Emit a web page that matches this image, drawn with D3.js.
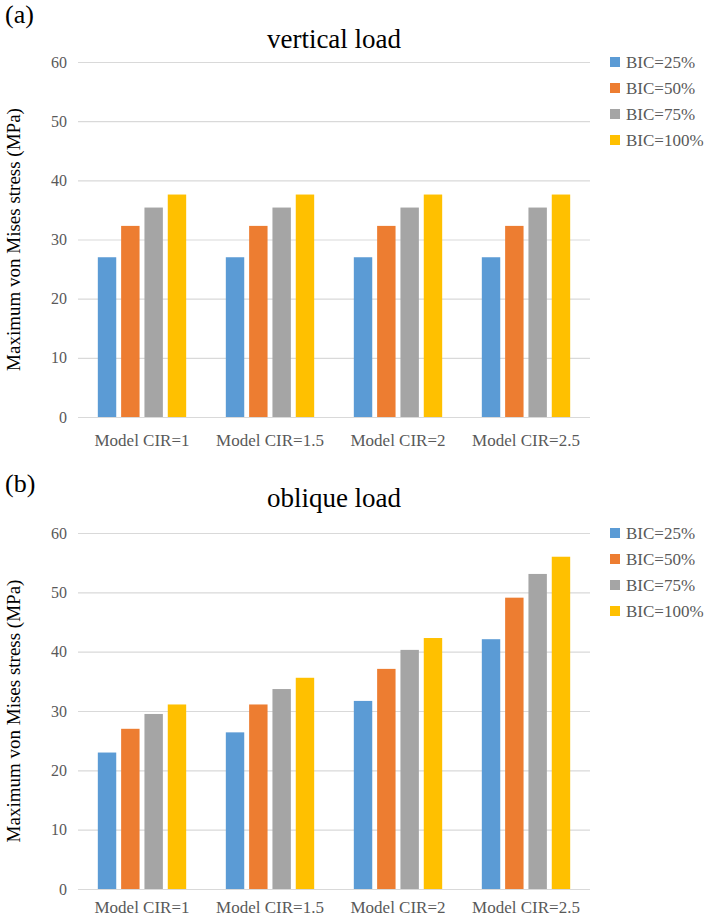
<!DOCTYPE html>
<html>
<head>
<meta charset="utf-8">
<script src="https://cdn.jsdelivr.net/npm/d3@7"></script>
<style>
  body { margin: 0; background: #fff; }
  text { font-family: "Liberation Serif", "Times New Roman", serif; }
</style>
</head>
<body>
<svg id="chart" width="708" height="918"></svg>
<script>
// Categories, series and values
const categories = ['Model CIR=1', 'Model CIR=1.5', 'Model CIR=2', 'Model CIR=2.5'];
const series = ['BIC=25%', 'BIC=50%', 'BIC=75%', 'BIC=100%'];
const colors = ['#5B9BD5', '#ED7D31', '#A5A5A5', '#FFC000'];
const yTicks = [0, 10, 20, 30, 40, 50, 60];

// (a) vertical load - one array per series, one value per category
const vertical25 = [27.0, 27.0, 27.0, 27.0];
const vertical50 = [32.3, 32.3, 32.3, 32.3];
const vertical75 = [35.4, 35.4, 35.4, 35.4];
const vertical100 = [37.6, 37.6, 37.6, 37.6];

// (b) oblique load
const oblique25 = [23.0, 26.4, 31.7, 42.1];
const oblique50 = [27.0, 31.1, 37.1, 49.1];
const oblique75 = [29.5, 33.7, 40.3, 53.1];
const oblique100 = [31.1, 35.6, 42.3, 56.0];

const panels = [
  { tag: '(a)', title: 'vertical load', values: [vertical25, vertical50, vertical75, vertical100],
    top: 62, bottom: 417, tagY: 23, titleY: 48, legendY: 62, labelPad: 17 },
  { tag: '(b)', title: 'oblique load', values: [oblique25, oblique50, oblique75, oblique100],
    top: 533, bottom: 889, tagY: 492, titleY: 507, legendY: 533, labelPad: 12 }
];

const
  plotLeft = 78,      // left edge of the plot area
  plotRight = 590,    // right edge of the plot area
  gridColor = '#d9d9d9',
  tickColor = '#595959';

const svg = d3.select('#chart');

panels.forEach(p => {
  const g = svg.append('g');

  // --- scales
  const x0 = d3.scaleBand(categories, [plotLeft, plotRight]);
  const x1 = d3.scaleBand(series, [0, x0.bandwidth()])
    .paddingInner(0.21)
    .paddingOuter(0.85);
  const y = d3.scaleLinear([0, 60], [p.bottom, p.top]);

  // --- gridlines + y tick labels
  const yAxis = d3.axisLeft(y)
    .tickValues(yTicks)
    .tickSize(-(plotRight - plotLeft))
    .tickPadding(11);

  g.append('g')
    .attr('transform', 'translate(' + plotLeft + ',0)')
    .call(yAxis)
    .call(a => a.select('.domain').remove())
    .call(a => a.selectAll('.tick line').attr('stroke', gridColor).attr('stroke-width', 1.2))
    .call(a => a.selectAll('.tick text')
      .attr('fill', tickColor)
      .style('font-size', '16px')
      .style('font-family', '"Liberation Serif", serif'));

  // --- bars
  const rows = categories.map((c, i) => ({ cat: c, vals: series.map((s, j) => ({ s, j, v: p.values[j][i] })) }));

  g.selectAll('g.group')
    .data(rows)
    .enter()
    .append('g')
    .attr('class', 'group')
    .attr('transform', d => 'translate(' + x0(d.cat) + ',0)')
    .selectAll('rect')
    .data(d => d.vals)
    .enter()
    .append('rect')
    .attr('x', d => x1(d.s))
    .attr('y', d => y(d.v))
    .attr('width', x1.bandwidth())
    .attr('height', d => y(0) - y(d.v))
    .attr('fill', d => colors[d.j]);

  // --- x axis (category labels)
  const xAxis = d3.axisBottom(x0).tickSize(0).tickPadding(p.labelPad);
  g.append('g')
    .attr('transform', 'translate(0,' + y(0) + ')')
    .call(xAxis)
    .call(a => a.select('.domain').remove())
    .call(a => a.selectAll('.tick text')
      .attr('fill', tickColor)
      .style('font-size', '17px')
      .style('font-family', '"Liberation Serif", serif'));

  // --- titles
  g.append('text')
    .attr('x', 5)
    .attr('y', p.tagY)
    .style('font-size', '26px')
    .text(p.tag);

  g.append('text')
    .attr('x', (plotLeft + plotRight) / 2)
    .attr('y', p.titleY)
    .attr('text-anchor', 'middle')
    .style('font-size', '27px')
    .text(p.title);

  g.append('text')
    .attr('transform', 'rotate(-90)')
    .attr('x', -(p.top + p.bottom) / 2)
    .attr('y', 20)
    .attr('text-anchor', 'middle')
    .style('font-size', '19px')
    .text('Maximum von Mises stress (MPa)');

  // --- legend
  const legend = g.selectAll('g.legend')
    .data(series)
    .enter()
    .append('g')
    .attr('class', 'legend')
    .attr('transform', (d, i) => 'translate(610,' + (p.legendY + i * 26) + ')');

  legend.append('rect')
    .attr('y', -5)
    .attr('width', 10)
    .attr('height', 10)
    .attr('fill', (d, i) => colors[i]);

  legend.append('text')
    .attr('x', 16)
    .attr('y', 6)
    .attr('fill', tickColor)
    .style('font-size', '17px')
    .text(d => d);
});
</script>
</body>
</html>
